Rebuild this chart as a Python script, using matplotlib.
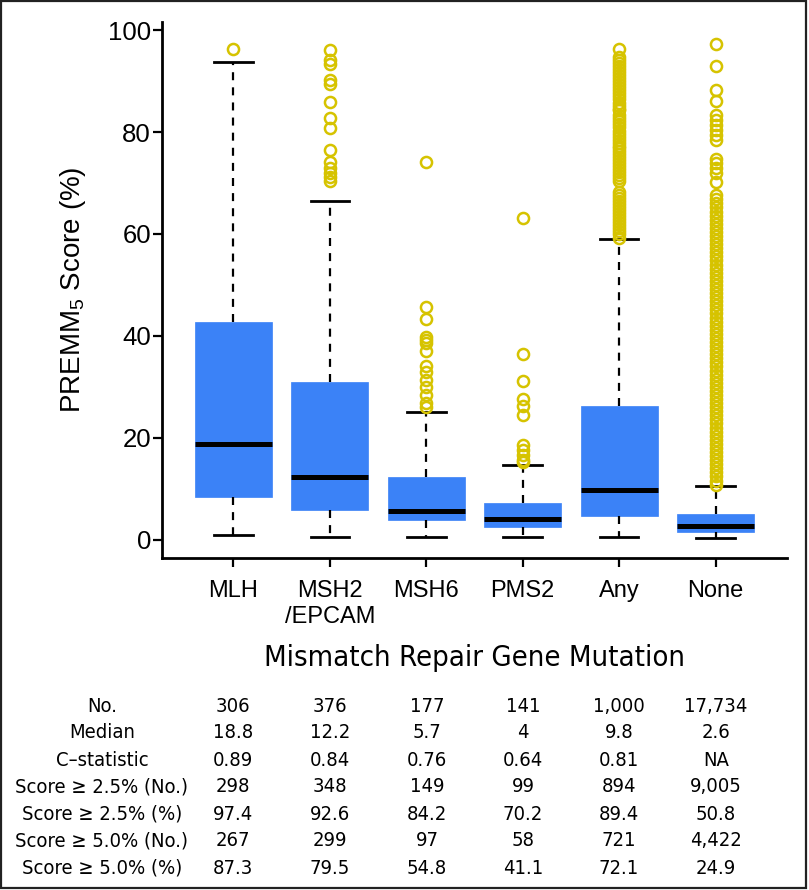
import matplotlib
matplotlib.use("Agg")
import matplotlib.pyplot as plt
from matplotlib import font_manager
from matplotlib.font_manager import FontProperties
from matplotlib.patches import Rectangle

# ---- data ----
groups = ["MLH", "MSH2\n/EPCAM", "MSH6", "PMS2", "Any", "None"]
q1 = [8.4, 5.9, 3.8, 2.4, 4.6, 1.5]
med = [18.8, 12.2, 5.7, 4.0, 9.8, 2.6]
q3 = [42.8, 30.9, 12.3, 7.2, 26.3, 5.0]
whis_lo = [1.0, 0.6, 0.6, 0.6, 0.6, 0.3]
whis_hi = [93.7, 66.4, 25.1, 14.6, 59.0, 10.5]

out_mlh = [96.3]
out_msh2 = [96.2, 94.2, 93.3, 90.2, 89.5, 85.9, 82.7, 80.7, 76.5, 74.1, 72.9,
            71.9, 71.2, 70.4]
out_msh6 = [74.1, 45.7, 43.3, 39.7, 39.1, 38.6, 37.1, 34.1, 33.0, 31.4, 29.9,
            28.4, 26.9, 26.0]
out_pms2 = [63.1, 36.5, 31.2, 27.6, 26.3, 24.5, 18.5, 17.6, 16.7, 15.7, 15.2]
out_any = [96.3, 94.8, 94.2, 93.6, 93.0, 92.4, 91.8, 91.2, 90.6, 90.0, 89.4,
           88.8, 88.2, 87.6, 87.0, 86.4, 85.8, 85.2, 84.6, 84.3, 83.3, 82.7,
           82.1, 81.5, 80.9, 80.3, 79.7, 79.1, 78.5, 77.9, 77.3, 76.9, 76.3,
           75.7, 75.1, 74.5, 73.9, 73.3, 72.7, 72.1, 71.5, 70.9, 70.3, 68.3,
           67.7, 67.1, 66.5, 65.9, 65.3, 64.7, 64.1, 63.5, 62.9, 62.3, 61.7,
           61.1, 60.5, 59.9, 59.3]
out_none = [97.3, 92.9, 88.2, 86.1, 83.3, 82.4, 81.4, 80.4, 79.4, 78.4, 74.8,
            73.9, 72.9, 71.9, 70.1, 67.6, 66.8, 66.0, 65.2, 64.4, 63.6, 62.8,
            62.0, 61.2, 60.4, 59.6, 58.8, 58.0, 57.2, 56.4, 55.6, 54.8, 54.0,
            53.2, 52.4, 51.6, 50.8, 50.0, 49.2, 48.4, 47.6, 46.8, 46.0, 45.2,
            44.4, 43.6, 42.8, 42.0, 41.2, 40.4, 39.6, 38.8, 38.0, 37.2, 36.4,
            35.6, 34.8, 34.0, 33.2, 32.4, 31.6, 30.8, 30.0, 29.2, 28.4, 27.6,
            26.8, 26.0, 25.2, 24.4, 23.6, 22.8, 22.0, 21.2, 20.4, 19.6, 18.8,
            18.0, 17.2, 16.4, 15.6, 14.8, 14.0, 13.2, 12.4, 11.6, 10.8]
outliers = [out_mlh, out_msh2, out_msh6, out_pms2, out_any, out_none]

row_labels = ["No.", "Median", "C\u2013statistic", "Score \u2265 2.5% (No.)",
              "Score \u2265 2.5% (%)", "Score \u2265 5.0% (No.)",
              "Score \u2265 5.0% (%)"]
n_pat = ["306", "376", "177", "141", "1,000", "17,734"]
median_txt = ["18.8", "12.2", "5.7", "4", "9.8", "2.6"]
c_stat = ["0.89", "0.84", "0.76", "0.64", "0.81", "NA"]
ge25_n = ["298", "348", "149", "99", "894", "9,005"]
ge25_pct = ["97.4", "92.6", "84.2", "70.2", "89.4", "50.8"]
ge50_n = ["267", "299", "97", "58", "721", "4,422"]
ge50_pct = ["87.3", "79.5", "54.8", "41.1", "72.1", "24.9"]
table_rows = [n_pat, median_txt, c_stat, ge25_n, ge25_pct, ge50_n, ge50_pct]

BLUE = "#3B82F7"
GOLD = "#D6C300"
W, H = 809, 890


def narrow_font(size):
    # the reference table uses a condensed face; take one if it is installed
    ttf = font_manager.fontManager.ttflist
    for name, stretch in [("Liberation Sans Narrow", None), ("DejaVu Sans", "condensed")]:
        for f in ttf:
            if f.name != name or f.style != "normal" or f.weight not in (400, "normal", "regular"):
                continue
            if stretch and f.stretch != stretch:
                continue
            return FontProperties(fname=f.fname, size=size)
    return FontProperties(family="DejaVu Sans", size=size)


plt.rcParams.update({
    "font.family": ["Liberation Sans", "DejaVu Sans"],
    "mathtext.fontset": "custom",
    "mathtext.rm": "Liberation Sans",
})

fig = plt.figure(figsize=(W / 100, H / 100), dpi=100)
ax = fig.add_axes([162 / W, 1 - 558 / H, (787 - 162) / W, (558 - 22) / H])

stats = [{"med": m, "q1": a, "q3": b, "whislo": lo, "whishi": hi, "fliers": fl}
         for m, a, b, lo, hi, fl in zip(med, q1, q3, whis_lo, whis_hi, outliers)]
pos = list(range(1, len(groups) + 1))
ax.bxp(stats, positions=pos, widths=0.8, capwidths=0.4, patch_artist=True,
       boxprops=dict(facecolor=BLUE, edgecolor=BLUE, linewidth=0.5),
       medianprops=dict(color="black", linewidth=3.6, solid_capstyle="butt"),
       whiskerprops=dict(color="black", linewidth=1.6, linestyle=(0, (3.6, 3.2))),
       capprops=dict(color="black", linewidth=2.0),
       flierprops=dict(marker="o", markerfacecolor="none", markeredgecolor=GOLD,
                       markersize=8, markeredgewidth=1.8, zorder=4))

ax.set_xlim(0.26, 6.74)
ax.set_ylim(-3.6, 101.6)
ax.set_yticks([0, 20, 40, 60, 80, 100])
ax.set_xticks(pos)
ax.set_xticklabels(groups, linespacing=1.25)
for s in ["top", "right"]:
    ax.spines[s].set_visible(False)
for s in ["left", "bottom"]:
    ax.spines[s].set_linewidth(2.0)
ax.tick_params(axis="both", direction="out", length=6.5, width=1.6)
ax.tick_params(axis="y", pad=1.5, labelsize=18.5)
ax.tick_params(axis="x", pad=9, labelsize=17)
ax.set_ylabel(r"PREMM$_\mathregular{5}$ Score (%)", fontsize=20)
ax.yaxis.set_label_coords(-0.118, 0.5)

fig.text(474.5 / W, 1 - 658 / H, "Mismatch Repair Gene Mutation", ha="center",
         va="center", fontproperties=narrow_font(21))

# table under the plot
row_y = [706, 733, 760, 787, 814, 841, 868]
col_x = [233, 330, 427, 523, 619, 716]
tab_font = narrow_font(14.5)
for ry, lab, vals in zip(row_y, row_labels, table_rows):
    fig.text(102 / W, 1 - ry / H, lab, ha="center", va="center", fontproperties=tab_font)
    for cx, v in zip(col_x, vals):
        fig.text(cx / W, 1 - ry / H, v, ha="center", va="center", fontproperties=tab_font)

fig.patches.append(Rectangle((1 / W, 2 / H), 805 / W, 887 / H, transform=fig.transFigure,
                             fill=False, edgecolor="#222222", linewidth=1.6))
fig.savefig("out.png", dpi=100)
